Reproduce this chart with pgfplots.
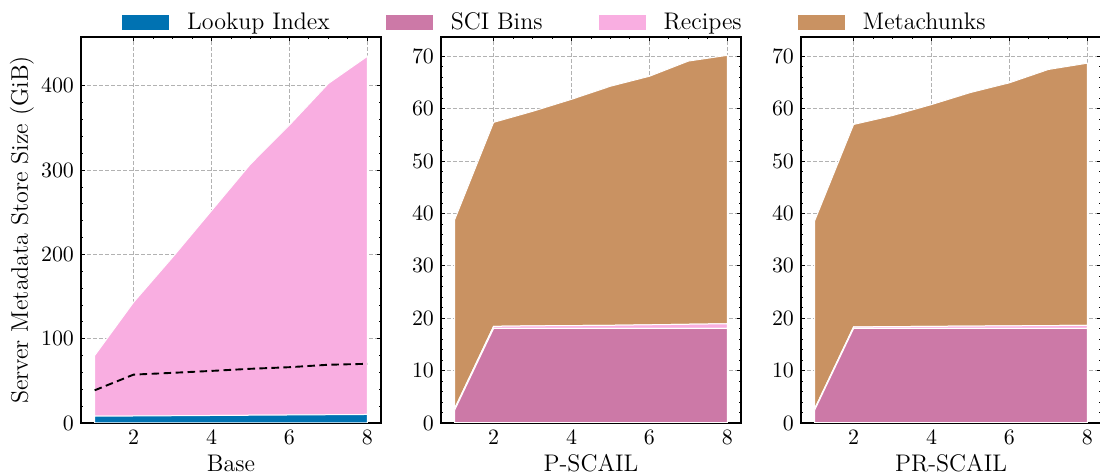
\documentclass[border=0pt]{standalone}
\usepackage{pgfplots}
\pgfplotsset{compat=1.18}

\definecolor{lookup}{HTML}{0072B2}
\definecolor{scibins}{HTML}{CC79A7}
\definecolor{recipes}{HTML}{F9AEE1}
\definecolor{metachunks}{HTML}{C99262}

\pgfplotsset{
  panel/.style={
    scale only axis, width=150pt, height=193pt,
    xmin=0.65, xmax=8.35, ymin=0,
    xtick={2,4,6,8}, minor x tick num=3,
    tick align=inside,
    major tick length=1.8pt, minor tick length=1pt,
    every tick/.style={black, line width=0.45pt},
    grid=major,
    major grid style={gray!60, dash pattern=on 2pt off 1pt, line width=0.4pt},
    axis line style={line width=0.6pt},
    tick label style={font=\fontsize{11}{13}\selectfont},
    label style={font=\fontsize{12}{14}\selectfont},
    xlabel style={at={(axis description cs:0.5,-0.104)}, anchor=center},
    stack plots=y,
    no markers,
  },
  layer/.style={fill=#1, draw=white, line width=0.5pt},
}

\begin{document}
\begin{tikzpicture}
\useasboundingbox (0,0) rectangle (550pt,237.5pt);

% Base
\begin{axis}[panel, at={(40.5pt,26pt)}, anchor=south west,
  ymax=458, ytick={0,100,200,300,400}, minor y tick num=4,
  xlabel={Base}, ylabel={Server Metadata Store Size (GiB)},
  ylabel style={at={(axis description cs:-0.197,0.5)}, anchor=center}]
  \addplot[layer=lookup] coordinates {
    (1,8.0) (2,8.3) (3,8.6) (4,8.9) (5,9.2) (6,9.5) (7,9.8) (8,10.1)} \closedcycle;
  \addplot[layer=recipes] coordinates {
    (1,72) (2,135) (3,188) (4,243) (5,298) (6,344) (7,393) (8,425)} \closedcycle;
\end{axis}

% P-SCAIL total, overlaid on the Base panel
\begin{axis}[scale only axis, width=150pt, height=193pt, at={(40.5pt,26pt)}, anchor=south west,
  xmin=0.65, xmax=8.35, ymin=0, ymax=458, hide axis, grid=none]
  \addplot[black, line width=0.95pt, dash pattern=on 3.8pt off 2.2pt, mark=none] coordinates {
    (1,38.8) (2,57.4) (3,59.5) (4,61.8) (5,64.3) (6,66.2) (7,69.1) (8,70.2)};
\end{axis}

% P-SCAIL
\begin{axis}[panel, at={(220.5pt,26pt)}, anchor=south west,
  ymax=73.7, ytick={0,10,...,70}, minor y tick num=4,
  xlabel={P-SCAIL},
  legend columns=4,
  legend style={at={(axis description cs:0.383,1.037)}, anchor=center, draw=none, fill=none,
    font=\fontsize{12}{14}\selectfont,
    /tikz/every odd column/.append style={column sep=7pt},
    /tikz/every even column/.append style={column sep=26pt}},
  legend image code/.code={\fill[#1, draw=none] (0pt,-3.75pt) rectangle (23.5pt,3.75pt);}]
  \addplot[layer=lookup] coordinates {
    (1,0.05) (2,0.05) (3,0.05) (4,0.05) (5,0.05) (6,0.05) (7,0.05) (8,0.05)} \closedcycle;
  \addplot[layer=scibins] coordinates {
    (1,2.4) (2,18.0) (3,18.0) (4,18.0) (5,18.0) (6,18.0) (7,18.0) (8,18.0)} \closedcycle;
  \addplot[layer=recipes] coordinates {
    (1,0.3) (2,0.4) (3,0.5) (4,0.55) (5,0.6) (6,0.7) (7,0.8) (8,0.9)} \closedcycle;
  \addplot[layer=metachunks] coordinates {
    (1,36.05) (2,38.95) (3,40.95) (4,43.2) (5,45.65) (6,47.45) (7,50.25) (8,51.25)} \closedcycle;
  \legend{Lookup Index, SCI Bins, Recipes, Metachunks}
\end{axis}

% PR-SCAIL
\begin{axis}[panel, at={(400.5pt,26pt)}, anchor=south west,
  ymax=73.7, ytick={0,10,...,70}, minor y tick num=4,
  xlabel={PR-SCAIL}]
  \addplot[layer=lookup] coordinates {
    (1,0.05) (2,0.05) (3,0.05) (4,0.05) (5,0.05) (6,0.05) (7,0.05) (8,0.05)} \closedcycle;
  \addplot[layer=scibins] coordinates {
    (1,2.4) (2,18.0) (3,18.0) (4,18.0) (5,18.0) (6,18.0) (7,18.0) (8,18.0)} \closedcycle;
  \addplot[layer=recipes] coordinates {
    (1,0.25) (2,0.3) (3,0.35) (4,0.4) (5,0.45) (6,0.5) (7,0.55) (8,0.6)} \closedcycle;
  \addplot[layer=metachunks] coordinates {
    (1,35.9) (2,38.65) (3,40.3) (4,42.35) (5,44.6) (6,46.4) (7,48.9) (8,50.05)} \closedcycle;
\end{axis}
\end{tikzpicture}
\end{document}
